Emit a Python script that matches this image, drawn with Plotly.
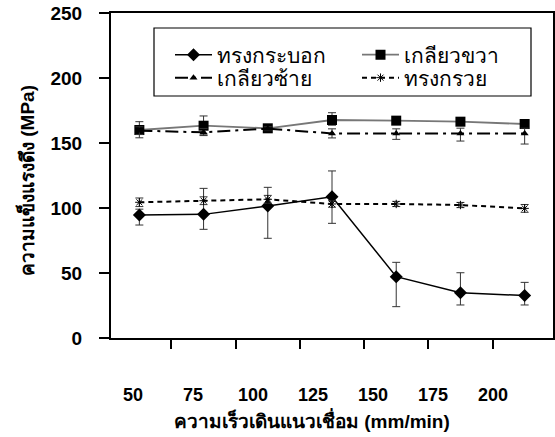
import plotly.graph_objects as go

speeds = ["50", "75", "100", "125", "150", "175", "200"]
speed_vals = [50, 75, 100, 125, 150, 175, 200]

cyl = [94.6, 95.1, 101.5, 108.7, 47.2, 34.9, 32.6]
cyl_up = [4.5, 20.0, 14.4, 19.8, 11.0, 15.3, 10.2]
cyl_dn = [7.7, 11.5, 24.8, 20.5, 23.1, 9.5, 7.2]

rth = [160.0, 163.3, 161.3, 167.7, 167.2, 166.4, 164.6]
rth_up = [6.4, 7.5, 1.5, 5.6, 2.0, 2.0, 2.0]
rth_dn = [6.0, 7.0, 1.5, 4.0, 2.0, 2.0, 2.0]

lth = [159.5, 158.2, 161.0, 157.4, 157.4, 157.4, 157.4]
lth_up = [3.0, 3.0, 1.5, 3.5, 3.5, 4.0, 4.0]
lth_dn = [3.0, 2.5, 1.5, 3.5, 4.6, 5.9, 8.2]

cone = [104.4, 105.6, 106.7, 103.1, 103.1, 102.3, 99.7]
cone_up = [3.3, 3.0, 3.0, 2.5, 2.0, 2.0, 3.0]
cone_dn = [3.3, 3.0, 3.0, 2.5, 2.0, 2.0, 3.0]

names = ["ทรงกระบอก", "เกลียวขวา", "เกลียวซ้าย", "ทรงกรวย"]
y_ticks = [0, 50, 100, 150, 200, 250]
x_title = "ความเร็วเดินแนวเชื่อม (mm/min)"
y_title = "ความแข็งแรงดึง (MPa)"

FONT = "Liberation Sans, Arial, sans-serif"
EB = dict(color="#333333", thickness=1, width=4)

FW, FH = 555, 437
# plot area in pixels
L, R, T, B = 111, 553, 13, 338
W, H = R - L, B - T
def px_x(p):
    return (p - L) / W
def px_y(p):
    return (B - p) / H

def err(up, dn):
    return dict(type="data", symmetric=False, array=up, arrayminus=dn, **EB)

fig = go.Figure()
fig.add_trace(go.Scatter(x=speeds, y=cyl, name=names[0], mode="lines+markers",
                         legend="legend",
                         line=dict(color="black", width=1.5),
                         marker=dict(symbol="diamond", size=10, color="black"),
                         error_y=err(cyl_up, cyl_dn)))
fig.add_trace(go.Scatter(x=speeds, y=rth, name=names[1], mode="lines+markers",
                         legend="legend",
                         line=dict(color="#777777", width=1.8),
                         marker=dict(symbol="square", size=10, color="black"),
                         error_y=err(rth_up, rth_dn)))
fig.add_trace(go.Scatter(x=speeds, y=lth, name=names[2], mode="lines+markers",
                         legend="legend2",
                         line=dict(color="black", width=2, dash="13px,5px,3px,5px"),
                         marker=dict(symbol="triangle-up", size=7, color="black"),
                         error_y=err(lth_up, lth_dn)))
fig.add_trace(go.Scatter(x=speeds, y=cone, name=names[3], mode="lines+markers",
                         legend="legend2",
                         line=dict(color="black", width=2, dash="5px,4px"),
                         marker=dict(symbol="asterisk-open", size=7, color="black",
                                     line=dict(color="black", width=1)),
                         error_y=err(cone_up, cone_dn)))

# invisible carrier for the tick labels axis
fig.add_trace(go.Scatter(x=[speed_vals[0]], y=[None], xaxis="x2", showlegend=False,
                         hoverinfo="skip"))

leg_common = dict(orientation="h", xanchor="left", yanchor="middle",
                  bgcolor="rgba(0,0,0,0)", borderwidth=0,
                  font=dict(size=21, family=FONT),
                  entrywidth=135, entrywidthmode="pixels",
                  itemwidth=37, traceorder="normal")

fig.update_layout(
    width=FW, height=FH,
    margin=dict(l=L, r=FW - R, t=T, b=FH - B, autoexpand=False),
    paper_bgcolor="white", plot_bgcolor="white",
    font=dict(family=FONT, color="black"),
    showlegend=True,
    legend=dict(x=px_x(170), y=px_y(55), **leg_common),
    legend2=dict(x=px_x(170), y=px_y(78), **leg_common),
    xaxis=dict(type="category", tickson="boundaries", ticks="outside", ticklen=9,
               tickcolor="black", tickwidth=1.5, showline=True, linecolor="black",
               linewidth=2, mirror=True, showgrid=False, showticklabels=False),
    xaxis2=dict(overlaying="x", anchor="y", side="bottom",
                range=[50 - (133 - L) / 2.4, 50 - (133 - L) / 2.4 + W / 2.4],
                tickvals=speed_vals, ticktext=speeds, ticks="", showline=False,
                showgrid=False, zeroline=False, ticklabelstandoff=44,
                tickfont=dict(size=18, family=FONT, weight="bold")),
    yaxis=dict(range=[0, 250], tickvals=y_ticks, ticks="outside", ticklen=10,
               tickcolor="black", tickwidth=1.5, showline=True, linecolor="black",
               linewidth=2, mirror=True, showgrid=False, zeroline=False,
               ticklabelstandoff=13, ticklabeloverflow="allow",
               tickfont=dict(size=19, family=FONT, weight="bold")),
    shapes=[dict(type="rect", xref="paper", yref="paper",
                 x0=px_x(154), x1=px_x(531), y0=px_y(96), y1=px_y(28),
                 line=dict(color="black", width=1.2), fillcolor="rgba(0,0,0,0)")],
    annotations=[
        dict(text=x_title, xref="paper", yref="paper", x=px_x(312), y=px_y(420),
             xanchor="center", yanchor="middle", showarrow=False,
             font=dict(size=19, family=FONT, weight="bold")),
        dict(text=y_title, xref="paper", yref="paper", x=px_x(26), y=px_y(181),
             xanchor="center", yanchor="middle", showarrow=False, textangle=-90,
             font=dict(size=19, family=FONT, weight="bold")),
    ],
)

fig.write_html("out.html",
               config={"displayModeBar": False},
               post_script="document.body.style.margin='0px';")
